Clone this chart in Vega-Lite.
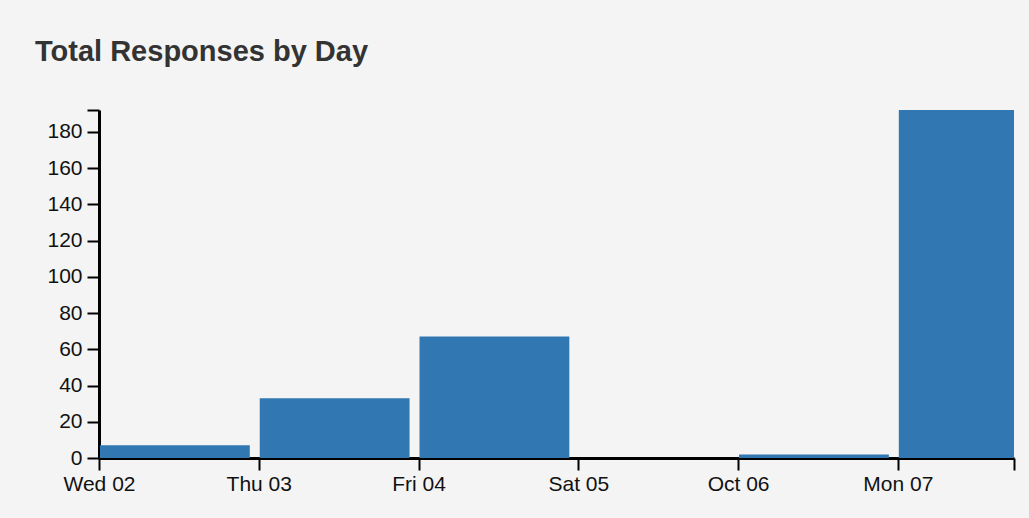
{
  "$schema": "https://vega.github.io/schema/vega-lite/v6.json",
  "width": 915,
  "height": 348,
  "autosize": {"type": "none"},
  "padding": {"left": 99, "top": 110, "right": 15, "bottom": 60},
  "background": "#f4f4f4",
  "title": {
    "text": "Total Responses by Day",
    "anchor": "start",
    "frame": "group",
    "dx": -64,
    "offset": 32,
    "fontSize": 29,
    "font": "Liberation Sans",
    "fontWeight": "bold",
    "color": "#333333"
  },
  "config": {
    "view": {"stroke": null},
    "axis": {
      "domainColor": "#000000",
      "domainWidth": 3,
      "tickColor": "#000000",
      "tickWidth": 2,
      "tickSize": 12,
      "labelFont": "Liberation Sans",
      "labelFontSize": 21,
      "labelColor": "#111111",
      "grid": false,
      "title": null,
      "labelFlush": false,
      "labelOverlap": false
    }
  },
  "data": {
    "values": [
      {"day": "2013-10-02", "responses": 7},
      {"day": "2013-10-03", "responses": 33},
      {"day": "2013-10-04", "responses": 67},
      {"day": "2013-10-05", "responses": 0},
      {"day": "2013-10-06", "responses": 2},
      {"day": "2013-10-07", "responses": 192}
    ]
  },
  "mark": {"type": "bar", "color": "#3178b3", "clip": true, "width": {"band": 0.944}, "xOffset": -4.5},
  "encoding": {
    "x": {
      "field": "day",
      "type": "temporal",
      "timeUnit": "utcyearmonthdate",
      "scale": {"domain": [1380672000000, 1381166820000]},
      "axis": {
        "values": [1380672000000, 1380758400000, 1380844800000, 1380931200000, 1381017600000, 1381104000000, 1381166820000],
        "tickCount": 50,
        "tickMinStep": 1,
        "labelExpr": "utchours(datum.value) > 0 || utcminutes(datum.value) > 0 ? '' : (utcday(datum.value) == 0 ? utcFormat(datum.value, '%b %d') : utcFormat(datum.value, '%a %d'))",
        "labelPadding": 3,
        "labelOverlap": false,
        "labelFlush": false
      }
    },
    "y": {
      "field": "responses",
      "type": "quantitative",
      "scale": {"domain": [0, 192], "nice": false},
      "axis": {
        "values": [0, 20, 40, 60, 80, 100, 120, 140, 160, 180, 192],
        "tickCount": 50,
        "labelExpr": "datum.value == 192 ? '' : datum.label",
        "labelPadding": 5
      }
    }
  }
}
